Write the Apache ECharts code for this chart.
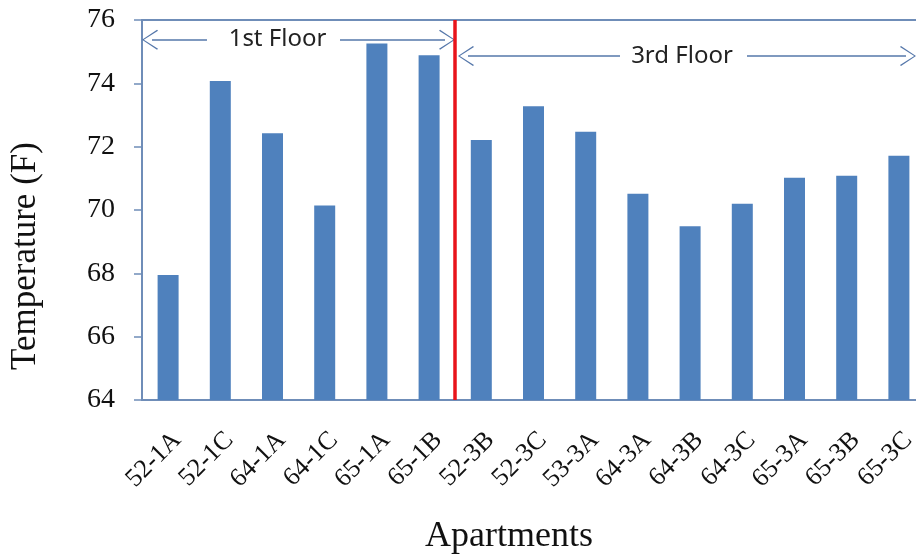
<!DOCTYPE html>
<html>
<head>
<meta charset="utf-8">
<script src="https://cdn.jsdelivr.net/npm/echarts@6/dist/echarts.min.js"></script>
<style>
html,body{margin:0;padding:0;background:#fff;}
#chart{width:916px;height:557px;}
</style>
</head>
<body>
<div id="chart"></div>
<script>
var categories = ['52-1A','52-1C','64-1A','64-1C','65-1A','65-1B','52-3B','52-3C','53-3A','64-3A','64-3B','64-3C','65-3A','65-3B','65-3C'];
var temperatures = [67.95,74.07,72.42,70.14,75.26,74.89,72.21,73.28,72.47,70.51,69.49,70.2,71.02,71.08,71.71];
var yTicks = [64,66,68,70,72,74,76];
var floorLabels = ['1st Floor','3rd Floor'];

var axisColor = '#6F8DB8';
var arrowColor = '#5577AA';
var chevron = 'path://M10,0 L20,15 L19,16 L10,1.8 L1,16 L0,15 Z M10,20 L10.01,20 L10,20 Z';

function arrowSeg(x1, x2, y, leftHead, rightHead) {
  return [
    {coord:[x1, y], symbol: leftHead ? chevron : 'none', symbolSize: 20},
    {coord:[x2, y], symbol: rightHead ? chevron : 'none', symbolSize: 20}
  ];
}

var chart = echarts.init(document.getElementById('chart'), null, {renderer:'canvas'});
var option = {
  animation: false,
  backgroundColor: '#ffffff',
  grid: {left: 142, top: 20, height: 380, width: 783, containLabel: false, outerBoundsMode: 'none'},
  xAxis: [
    {
      type: 'category',
      data: categories,
      axisLine: {show: true, lineStyle: {color: axisColor, width: 2}},
      axisTick: {show: false},
      axisLabel: {
        rotate: 45, interval: 0, margin: 27, verticalAlign: 'top',
        fontFamily: 'Liberation Serif', fontSize: 26, color: '#111'
      }
    },
    {
      type: 'value', min: 0, max: 15, position: 'top',
      axisLine: {show: true, onZero: false, lineStyle: {color: axisColor, width: 2}},
      axisTick: {show: false}, axisLabel: {show: false}, splitLine: {show: false}
    }
  ],
  yAxis: {
    type: 'value', min: yTicks[0], max: yTicks[yTicks.length-1], interval: 2,
    axisLine: {show: true, lineStyle: {color: axisColor, width: 2}},
    axisTick: {show: true, length: 8, lineStyle: {color: axisColor, width: 1.5}},
    axisLabel: {margin: 27, fontFamily: 'Liberation Serif', fontSize: 28, color: '#111'},
    splitLine: {show: false}
  },
  series: [
    {
      type: 'bar', data: temperatures, barWidth: 21,
      itemStyle: {color: '#4F81BD'}
    },
    {
      type: 'line', xAxisIndex: 1, yAxisIndex: 0, data: [],
      markLine: {
        silent: true, animation: false,
        symbolSize: 20,
        label: {show: false},
        lineStyle: {color: arrowColor, width: 1.5, type: 'solid'},
        data: [
          arrowSeg(0.192, 1.245, 75.38, true, false),
          arrowSeg(3.793, 5.805, 75.38, false, true),
          arrowSeg(6.245, 9.157, 74.86, true, false),
          arrowSeg(11.59, 14.636, 74.86, false, true),
          [
            {coord:[6, 64], symbol:'none', lineStyle:{color:'#E8141B', width:3.5}},
            {coord:[6, 76], symbol:'none'}
          ]
        ]
      },
      markPoint: {
        silent: true, animation: false,
        symbol: 'circle', symbolSize: 1,
        itemStyle: {color: 'rgba(0,0,0,0)'},
        label: {show: true, position: 'inside', formatter: '{b}', fontFamily: 'Noto Sans', fontSize: 24, color: '#222'},
        data: [
          {name: floorLabels[0], coord: [2.596, 75.38]},
          {name: floorLabels[1], coord: [10.345, 74.86]}
        ]
      }
    }
  ],
  graphic: [
    {
      type: 'text', x: 26, y: 256, rotation: Math.PI/2,
      style: {text: 'Temperature (F)', font: '35px "Liberation Serif"', fill: '#111', textAlign: 'center', textVerticalAlign: 'middle'}
    },
    {
      type: 'text', x: 509, y: 537,
      style: {text: 'Apartments', font: '36px "Liberation Serif"', fill: '#111', textAlign: 'center', textVerticalAlign: 'middle'}
    }
  ]
};
chart.setOption(option);
</script>
</body>
</html>
